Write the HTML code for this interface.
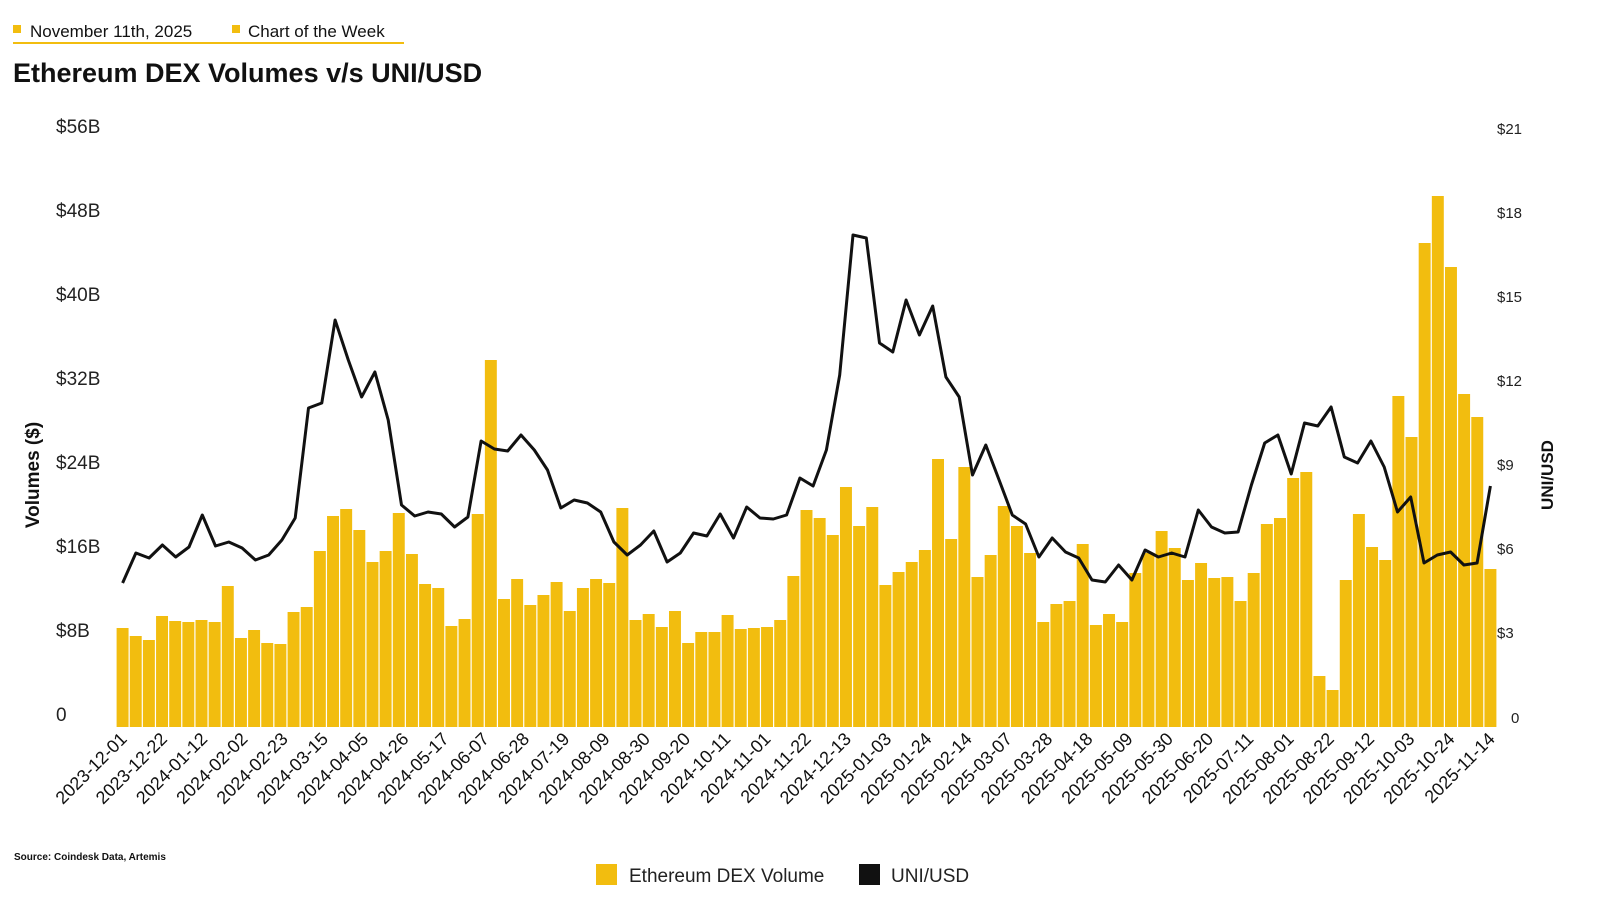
<!DOCTYPE html>
<html><head><meta charset="utf-8"><style>
body{margin:0;background:#fff;width:1600px;height:914px;overflow:hidden;font-family:"Liberation Sans",sans-serif}
</style></head><body>
<svg id="s" width="1600" height="914" xmlns="http://www.w3.org/2000/svg" font-family="Liberation Sans, sans-serif">
<rect x="13" y="25" width="8" height="8" fill="#f2bd0f"/>
<text x="30" y="37" font-size="17" fill="#111">November 11th, 2025</text>
<rect x="232" y="25" width="8" height="8" fill="#f2bd0f"/>
<text x="248" y="37" font-size="17" fill="#111">Chart of the Week</text>
<line x1="13" y1="43" x2="404" y2="43" stroke="#f2bd0f" stroke-width="2"/>
<text x="13" y="82" font-size="27" font-weight="bold" fill="#111">Ethereum DEX Volumes v/s UNI/USD</text>
<g font-size="19" fill="#222">
<text x="56" y="133">$56B</text><text x="56" y="217">$48B</text><text x="56" y="301">$40B</text>
<text x="56" y="385">$32B</text><text x="56" y="469">$24B</text><text x="56" y="553">$16B</text>
<text x="56" y="637">$8B</text><text x="56" y="721">0</text>
</g>
<g font-size="15" fill="#222">
<text x="1497" y="134">$21</text><text x="1497" y="218">$18</text><text x="1497" y="302">$15</text>
<text x="1497" y="386">$12</text><text x="1497" y="470">$9</text><text x="1497" y="554">$6</text>
<text x="1497" y="638">$3</text><text x="1511" y="723">0</text>
</g>
<text transform="translate(39,475) rotate(-90)" font-size="19" font-weight="bold" text-anchor="middle" fill="#111">Volumes ($)</text>
<text transform="translate(1553,475) rotate(-90)" font-size="17" font-weight="bold" text-anchor="middle" fill="#111">UNI/USD</text>
<g id="bars" fill="#f2bd0f"></g>
<polyline id="ln" fill="none" stroke="#111" stroke-width="3" stroke-linejoin="round"/>
<g id="lbl" font-size="18" fill="#111"></g>
<text x="14" y="860" font-size="10" font-weight="bold" fill="#111">Source: Coindesk Data, Artemis</text>
<rect x="596" y="864" width="21" height="21" fill="#f2bd0f"/>
<text x="629" y="882" font-size="19" fill="#222">Ethereum DEX Volume</text>
<rect x="859" y="864" width="21" height="21" fill="#111"/>
<text x="891" y="882" font-size="19" fill="#222">UNI/USD</text>
</svg>
<script>
var b=[628,636,640,616,621,622,620,622,586,638,630,643,644,612,607,551,516,509,530,562,551,513,554,584,588,626,619,514,360,599,579,605,595,582,611,588,579,583,508,620,614,627,611,643,632,632,615,629,628,627,620,576,510,518,535,487,526,507,585,572,562,550,459,539,467,577,555,506,526,553,622,604,601,544,625,614,622,573,553,531,548,580,563,578,577,601,573,524,518,478,472,676,690,580,514,547,560,396,437,243,196,267,394,417,569];
var l=[583,553,558,545,557,547,515,546,542,548,560,555,540,518,408,403,320,360,397,372,420,505,516,512,514,527,517,441,449,451,435,450,470,508,500,503,512,542,555,545,531,562,553,533,536,514,538,507,518,519,515,478,486,450,375,235,238,343,352,300,335,306,377,397,475,445,480,515,524,557,538,552,558,580,582,565,580,550,557,553,557,510,527,533,532,485,443,435,474,423,426,407,457,463,441,467,512,497,563,555,552,565,563,486];
var x0=116,x1=1497,N=b.length,st=(x1-x0)/N,ns="http://www.w3.org/2000/svg";
var g=document.getElementById('bars');
b.forEach(function(y,i){var r=document.createElementNS(ns,'rect');r.setAttribute('x',x0+i*st+0.6);r.setAttribute('y',y);r.setAttribute('width',st-1.2);r.setAttribute('height',727-y);g.appendChild(r);});
var c0=x0+st/2,c1=x1-st/2,pts=l.map(function(y,i){return (c0+i*(c1-c0)/(l.length-1)).toFixed(1)+','+y;});
document.getElementById('ln').setAttribute('points',pts.join(' '));
var lg=document.getElementById('lbl'),d=new Date(Date.UTC(2023,11,1));
for(var k=0;k<35;k++){var dd=new Date(d.getTime()+k*21*864e5);var s=dd.toISOString().slice(0,10);
var x=122+k*(1490-122)/34;var t=document.createElementNS(ns,'text');t.setAttribute('transform','translate('+(x+6)+',740) rotate(-45)');t.setAttribute('text-anchor','end');t.textContent=s;lg.appendChild(t);}
</script>
</body></html>
